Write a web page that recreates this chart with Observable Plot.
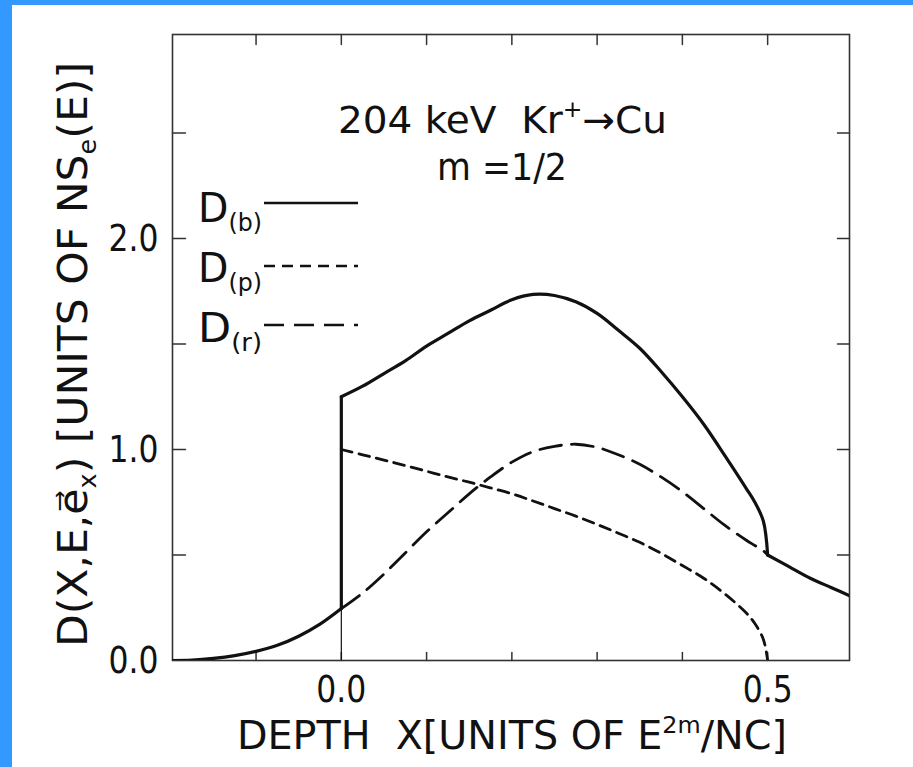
<!DOCTYPE html>
<html><head><meta charset="utf-8">
<script src="https://cdn.jsdelivr.net/npm/d3@7"></script>
<script src="https://cdn.jsdelivr.net/npm/@observablehq/plot@0.6"></script>
<style>
html,body{margin:0;padding:0;background:#3399ff;width:913px;height:767px;overflow:hidden}
#panel{position:absolute;left:12px;top:5px;width:901px;height:762px;background:#fff}
#panel svg{position:absolute;left:0;top:0}
text{white-space:pre}
</style></head><body><div id="panel"></div>
<script>
// ---- data ----
// x < 0 : D(b) = D(r) (drawn solid)
const xLow = [-0.2, -0.175, -0.15, -0.125, -0.1, -0.075, -0.05, -0.025, 0];
const dLow = [0, 0.002, 0.010, 0.023, 0.043, 0.072, 0.115, 0.172, 0.246];
// 0 <= x <= 0.5
const xMid = [0, 0.025, 0.05, 0.075, 0.1, 0.125, 0.15, 0.175, 0.2, 0.225, 0.25, 0.275, 0.3, 0.325, 0.35, 0.375, 0.4, 0.425, 0.45, 0.475, 0.485, 0.495, 0.5];
const dB = [1.25, 1.30, 1.36, 1.42, 1.49, 1.55, 1.61, 1.66, 1.71, 1.735, 1.73, 1.70, 1.645, 1.565, 1.48, 1.37, 1.25, 1.12, 0.97, 0.815, 0.75, 0.66, 0.50];
const dR = [0.246, 0.32, 0.41, 0.51, 0.61, 0.70, 0.79, 0.87, 0.94, 0.99, 1.015, 1.025, 1.01, 0.975, 0.93, 0.87, 0.80, 0.72, 0.64, 0.57, 0.545, 0.52, 0.50];
const dP = [1.0, 0.975, 0.95, 0.924, 0.897, 0.87, 0.845, 0.818, 0.79, 0.756, 0.72, 0.684, 0.645, 0.603, 0.56, 0.508, 0.45, 0.39, 0.315, 0.225, 0.175, 0.10, 0.0];
// x > 0.5 : D(b) = D(r)
const xTail = [0.5, 0.525, 0.55, 0.575, 0.6];
const dTail = [0.50, 0.445, 0.39, 0.345, 0.30];
// ticks
const xTickLabels = [0, 0.5];
const yTickLabels = [0, 1, 2];
const xTicks = [-0.1, 0, 0.1, 0.2, 0.3, 0.4, 0.5];
const yTicks = [0.5, 1, 1.5, 2, 2.5];
const seriesNames = ["b", "p", "r"];

// ---- font choice ----
function hasFont(name){
  const c = document.createElement("canvas").getContext("2d");
  const s = "DEPTH X UNITS 0.0 2.0 mmmWWWiii";
  c.font = "40px monospace"; const a = c.measureText(s).width;
  c.font = `40px "${name}", monospace`; const b = c.measureText(s).width;
  return a !== b;
}
const FONT = ["DejaVu Sans Condensed", "Liberation Sans Narrow", "DejaVu Sans"].find(hasFont) || "sans-serif";
const FONTCSS = `"${FONT}", "DejaVu Sans", sans-serif`;

const bData = [
  ...xLow.map((x, i) => ({x, y: dLow[i], piece: "low"})),
  {x: xLow[xLow.length - 1], y: dLow[dLow.length - 1], piece: "jump"},
  {x: xMid[0], y: dB[0], piece: "jump"},
  ...xMid.map((x, i) => ({x, y: dB[i], piece: "main"})),
  ...xTail.map((x, i) => ({x, y: dTail[i], piece: "tail"}))
];
const rData = xMid.map((x, i) => ({x, y: dR[i]}));
const pData = xMid.map((x, i) => ({x, y: dP[i]}));

const tickShape = {draw(ctx, l){ ctx.moveTo(0, 0); ctx.lineTo(0, -l); }};
const INK = "#111";

const plot = Plot.plot({
  width: 901, height: 762,
  marginLeft: 160, marginRight: 64, marginTop: 29, marginBottom: 107,
  x: {domain: [-0.198, 0.596]},
  y: {domain: [0, 2.967]},
  style: {fontFamily: FONTCSS, background: "transparent", color: INK},
  marks: [
    Plot.axisX(xTickLabels, {tickSize: 0, tickPadding: 15, tickFormat: d3.format(".1f"), fontSize: 37, label: null, fill: INK}),
    Plot.axisY(yTickLabels, {tickSize: 0, tickPadding: 14, tickFormat: d3.format(".1f"), fontSize: 38, label: null, fill: INK}),
    Plot.vector(xTicks, {x: d => d, frameAnchor: "bottom", rotate: 0, length: 8, anchor: "start", shape: tickShape, stroke: "#333", strokeWidth: 1.5}),
    Plot.vector(xTicks, {x: d => d, frameAnchor: "top", rotate: 180, length: 10, anchor: "start", shape: tickShape, stroke: "#333", strokeWidth: 1.5}),
    Plot.vector(yTicks, {y: d => d, frameAnchor: "left", rotate: 90, length: 13, anchor: "start", shape: tickShape, stroke: "#333", strokeWidth: 1.5}),
    Plot.vector(yTicks, {y: d => d, frameAnchor: "right", rotate: -90, length: 12, anchor: "start", shape: tickShape, stroke: "#333", strokeWidth: 1.5}),
    Plot.frame({stroke: "#333", strokeWidth: 1.6}),
    Plot.ruleX([xMid[0]], {y1: 0, y2: dB[0], stroke: INK, strokeWidth: 1.2}),
    Plot.line(pData, {x: "x", y: "y", curve: "catmull-rom", stroke: INK, strokeWidth: 2.8, strokeDasharray: "11,7", clip: true}),
    Plot.line(rData, {x: "x", y: "y", curve: "catmull-rom", stroke: INK, strokeWidth: 2.8, strokeDasharray: "22,10", clip: true}),
    Plot.line(bData, {x: "x", y: "y", z: "piece", curve: "catmull-rom", stroke: INK, strokeWidth: 3.2, strokeLinecap: "round", strokeLinejoin: "round", clip: true})
  ]
});
const panel = document.getElementById("panel");
panel.appendChild(plot);

// compress tick labels horizontally to the reference's narrow face
const svgP = d3.select(plot);
svgP.selectAll('g[aria-label$="tick label"] text').each(function(){
  const w = this.getBBox().width;
  const k = 50 / w;
  const t = this.getAttribute("transform") || "";
  this.setAttribute("transform", `${t} scale(${k},1)`);
});

// ---- overlay text: title, axis titles, legend ----
const ov = d3.select(panel).append("svg")
  .attr("width", 901).attr("height", 762)
  .style("pointer-events", "none")
  .attr("font-family", FONTCSS).attr("fill", INK);

function fit(sel, left, right){
  const bb = sel.node().getBBox();
  const k = (right - left) / bb.width;
  sel.attr("transform", `translate(${left},0) scale(${k},1) translate(${-bb.x},0)`);
}
function rich(parent, y, size, parts){
  const t = parent.append("text").attr("x", 0).attr("y", y).attr("font-size", size);
  let shift = 0;
  for (const [str, kind] of parts){
    const ts = t.append("tspan").text(str);
    let target = 0, fs = size;
    if (kind === "sup"){ target = -size * 0.42; fs = size * 0.6; }
    if (kind === "sub"){ target = size * 0.22; fs = size * 0.6; }
    ts.attr("dy", target - shift).attr("font-size", fs);
    shift = target;
  }
  return t;
}

// title
fit(rich(ov, 128, 38, [["204 keV  Kr"], ["+", "sup"], ["\u2192Cu"]]), 326, 655);
fit(rich(ov, 175, 38, [["m =1/2"]]), 425, 555);

// x axis title
fit(rich(ov, 744, 39, [["DEPTH  X[UNITS OF E"], ["2m", "sup"], ["/NC]"]]), 225, 775);

// y axis title (rotated)
const gy = ov.append("g").attr("transform", "translate(75,642) rotate(-90)");
fit(rich(gy, 0, 41, [["D(X,E,e\u20D7"], ["x", "sub"], [") [UNITS OF NS"], ["e", "sub"], ["(E)]"]]), 0, 585);

// legend
const legendDash = {b: null, p: "11,7", r: "20,10"};
seriesNames.forEach((s, i) => {
  const base = [217, 277, 337][i];
  const lineY = [198, 261, 320][i];
  fit(rich(ov, base, 40, [["D"], ["(" + s + ")", "sub"]]), 186, 250);
  const ln = ov.append("line").attr("x1", 252).attr("x2", 346).attr("y1", lineY).attr("y2", lineY)
    .attr("stroke", INK).attr("stroke-width", 2.6);
  if (legendDash[s]) ln.attr("stroke-dasharray", legendDash[s]);
});
</script></body></html>
